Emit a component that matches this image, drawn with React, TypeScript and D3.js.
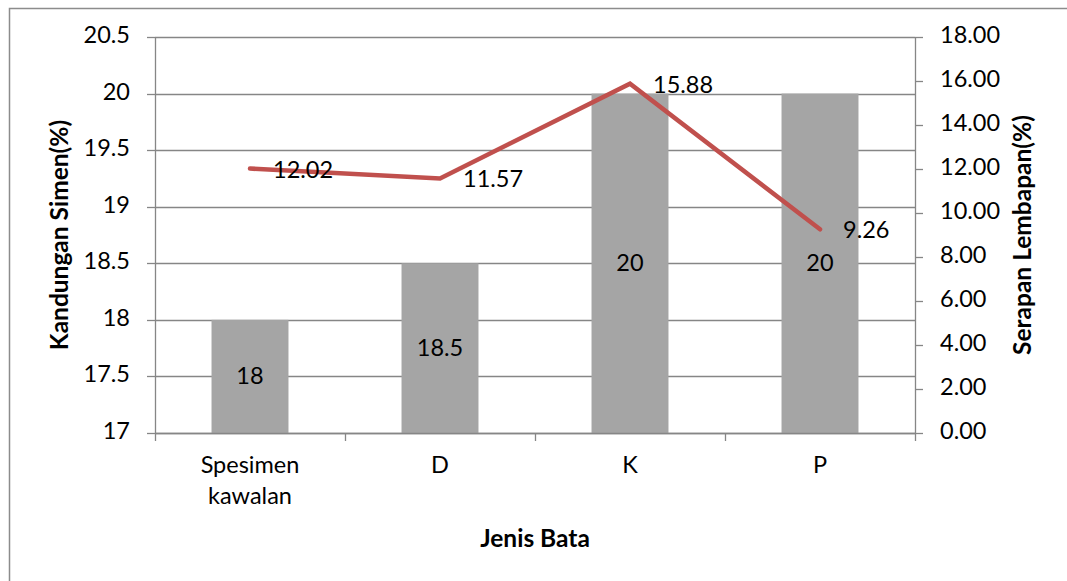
import React from "react";
import * as d3 from "d3";

// Brick types and measured values
const categories: string[][] = [["Spesimen", "kawalan"], ["D"], ["K"], ["P"]];
const cementContent: number[] = [18, 18.5, 20, 20];
const waterAbsorption: number[] = [12.02, 11.57, 15.88, 9.26];
const leftTicks: number[] = [17, 17.5, 18, 18.5, 19, 19.5, 20, 20.5];
const rightTicks: number[] = [0, 2, 4, 6, 8, 10, 12, 14, 16, 18];

const W = 1067;
const H = 581;
const FONT = "Lato, 'Open Sans', 'Noto Sans', sans-serif";
const FS = 23.5;
const TFS = 24.5;

export default function App() {
  const plot = { left: 155, right: 915, top: 37, bottom: 433 };

  const x = d3
    .scaleBand<number>()
    .domain(categories.map((_, i) => i))
    .range([plot.left, plot.right])
    .paddingInner(0.595)
    .paddingOuter(0.2975);
  const xStep = (plot.right - plot.left) / categories.length;
  const xCenter = (i: number) => plot.left + xStep * (i + 0.5);

  const yL = d3.scaleLinear().domain([17, 20.5]).range([plot.bottom, plot.top]);
  const yR = d3.scaleLinear().domain([0, 18]).range([plot.bottom, plot.top]);

  const line = d3
    .line<number>()
    .x((_, i) => xCenter(i))
    .y((d) => yR(d));

  const grid = "#868686";
  const axis = "#868686";

  return (
    <svg
      width={W}
      height={H}
      style={{ position: "absolute", left: 0, top: 0, background: "#fff" }}
      fontFamily={FONT}
    >
      <rect x={9.5} y={8.5} width={1200} height={800} fill="#fff" stroke="#8c8c8c" strokeWidth={1.5} />

      {/* horizontal gridlines */}
      {leftTicks.map((t) => (
        <line key={"g" + t} x1={plot.left} x2={plot.right} y1={Math.round(yL(t)) + 0.5} y2={Math.round(yL(t)) + 0.5} stroke={grid} strokeWidth={1.3} />
      ))}

      {/* bars */}
      {cementContent.map((v, i) => (
        <rect key={"b" + i} x={x(i)!} y={yL(v)} width={x.bandwidth()} height={plot.bottom - yL(v)} fill="#A5A5A5" />
      ))}

      {/* bar labels */}
      {cementContent.map((v, i) => (
        <text key={"bl" + i} x={xCenter(i)} y={(yL(v) + plot.bottom) / 2 + 2} textAnchor="middle" dominantBaseline="middle" fontSize={FS} fill="#000">
          {v}
        </text>
      ))}

      {/* left axis */}
      <line x1={plot.left + 0.5} x2={plot.left + 0.5} y1={plot.top} y2={plot.bottom} stroke={axis} strokeWidth={1.3} />
      {leftTicks.map((t) => (
        <g key={"lt" + t}>
          <line x1={plot.left - 8} x2={plot.left} y1={Math.round(yL(t)) + 0.5} y2={Math.round(yL(t)) + 0.5} stroke={axis} strokeWidth={1.3} />
          <text x={130} y={yL(t)} textAnchor="end" dominantBaseline="middle" fontSize={FS} fill="#000">
            {t}
          </text>
        </g>
      ))}

      {/* right axis */}
      <line x1={plot.right + 0.5} x2={plot.right + 0.5} y1={plot.top} y2={plot.bottom} stroke={axis} strokeWidth={1.3} />
      {rightTicks.map((t) => (
        <g key={"rt" + t}>
          <line x1={plot.right} x2={plot.right + 8} y1={Math.round(yR(t)) + 0.5} y2={Math.round(yR(t)) + 0.5} stroke={axis} strokeWidth={1.3} />
          <text x={940} y={yR(t)} textAnchor="start" dominantBaseline="middle" fontSize={FS} fill="#000">
            {t.toFixed(2)}
          </text>
        </g>
      ))}

      {/* bottom axis */}
      <line x1={plot.left} x2={plot.right + 1} y1={plot.bottom + 0.5} y2={plot.bottom + 0.5} stroke={axis} strokeWidth={1.3} />
      {d3.range(categories.length + 1).map((i) => (
        <line key={"bt" + i} x1={plot.left + xStep * i + 0.5} x2={plot.left + xStep * i + 0.5} y1={plot.bottom} y2={plot.bottom + 8} stroke={axis} strokeWidth={1.3} />
      ))}
      {categories.map((lines, i) =>
        lines.map((s, j) => (
          <text key={"c" + i + j} x={xCenter(i)} y={467 + j * 31} textAnchor="middle" dominantBaseline="middle" fontSize={FS} fill="#000">
            {s}
          </text>
        ))
      )}

      {/* absorption line */}
      <path d={line(waterAbsorption)!} fill="none" stroke="#C0504D" strokeWidth={4.5} strokeLinecap="round" strokeLinejoin="miter" />
      {waterAbsorption.map((v, i) => (
        <text key={"ll" + i} x={xCenter(i) + 23} y={yR(v) + 3} textAnchor="start" dominantBaseline="middle" fontSize={FS} fill="#000">
          {v.toFixed(2)}
        </text>
      ))}

      {/* axis titles */}
      <text transform={`translate(62,235) rotate(-90)`} textAnchor="middle" dominantBaseline="middle" fontSize={TFS} fontWeight="bold" fill="#000">
        Kandungan Simen(%)
      </text>
      <text transform={`translate(1025,235) rotate(-90)`} textAnchor="middle" dominantBaseline="middle" fontSize={TFS} fontWeight="bold" fill="#000">
        Serapan Lembapan(%)
      </text>
      <text x={535} y={541} textAnchor="middle" dominantBaseline="middle" fontSize={TFS} fontWeight="bold" fill="#000">
        Jenis Bata
      </text>
    </svg>
  );
}
